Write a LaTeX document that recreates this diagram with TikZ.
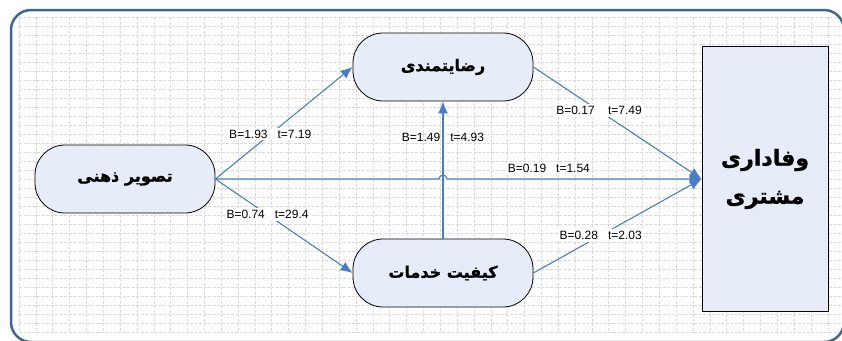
\documentclass[tikz,border=0pt]{standalone}
\usepackage{fontspec}
\setmainfont{Liberation Sans}
\newfontfamily\farsi[Script=Arabic, BoldFeatures={FakeBold=1.2}]{DejaVu Sans}
\TeXXeTstate=1
\usetikzlibrary{arrows.meta}

\definecolor{fleche}{RGB}{74,126,196}
\definecolor{cadre}{RGB}{65,100,145}
\definecolor{fond}{RGB}{230,236,248}

\tikzset{ovale/.style = {draw, fill=fond, line width=0.8pt, rounded corners=30pt,
                         minimum width=180pt, minimum height=68pt,
                         font=\farsi\bfseries\fontsize{16}{19}\selectfont},
         lien/.style = {draw=fleche, line width=1.1pt, -{Latex[length=12pt,width=10pt]}},
         coef/.style = {fill=white, inner sep=2pt, font=\fontsize{12}{14}\selectfont},
         grille/.style = {gray!30, line width=0.6pt, dash pattern=on 3pt off 1.5pt}
        }

\begin{document}
\begin{tikzpicture}[x=1pt,y=-1pt]
\clip (0,0) rectangle (842,340);
\foreach \i in {0,...,48} \draw[grille] (19+16.85*\i,17) -- (19+16.85*\i,333);
\foreach \j in {0,...,35} \draw[grille] (19,17+9*\j) -- (842,17+9*\j);
\draw[cadre, line width=2.5pt, rounded corners=20pt] (11,10) rectangle (844,342);

\node[ovale] at (125,179) (image) {\beginR تصویر ذهنی\endR};
\node[ovale] at (443,67) (satisf) {\beginR رضایتمندی\endR};
\node[ovale] at (443,273) (service) {\beginR کیفیت خدمات\endR};
\node[draw, fill=fond, line width=0.8pt, minimum width=126pt, minimum height=265pt,
      align=center, font=\farsi\bfseries\fontsize{22}{38}\selectfont] at (765,179) (fidelite)
      {\beginR وفاداری\endR\\\beginR مشتری\endR};

\coordinate (saut) at (satisf.south |- image.east);
\draw[lien] (image.east) -- (satisf.west) node[coef, pos=.4] {B=1.93\ \ \ t=7.19};
\draw[lien] (image.east) -- (service.west) node[coef, pos=.38] {B=0.74\ \ \ t=29.4};
\draw[lien] (image.east) -- ([xshift=-4pt]saut) arc[start angle=180, end angle=0, radius=4pt]
      -- (fidelite.west) node[coef, pos=.4, above=4pt] {B=0.19\ \ \ t=1.54};
\draw[lien] (service.north) -- (satisf.south) node[pos=.74, inner sep=0pt, font=\fontsize{12}{14}\selectfont] {B=1.49\ \ \ t=4.93};
\draw[lien] (satisf.east) -- (fidelite.west) node[coef, pos=.39] {B=0.17\ \ \ \ t=7.49};
\draw[lien] (service.east) -- (fidelite.west) node[coef, pos=.4] {B=0.28\ \ \ t=2.03};
\end{tikzpicture}
\end{document}
